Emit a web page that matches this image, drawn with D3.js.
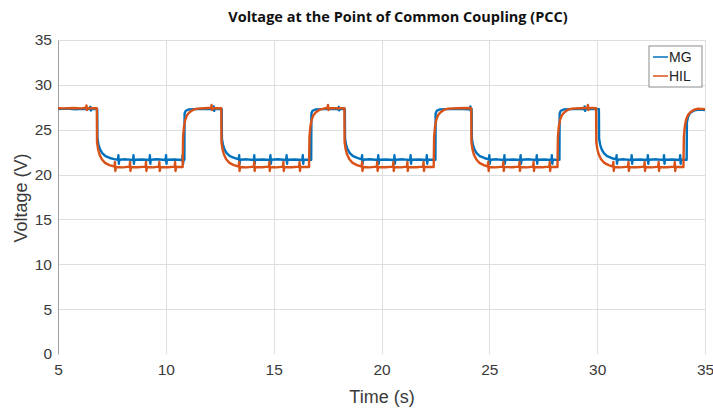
<!DOCTYPE html>
<html>
<head>
<meta charset="utf-8">
<script src="https://cdn.jsdelivr.net/npm/d3@7"></script>
<style>
  html, body { margin: 0; padding: 0; background: #fff; }
  svg { display: block; }
</style>
</head>
<body>
<svg id="chart" width="713" height="409"></svg>
<script>
// Axis ticks
const xTicks = [5, 10, 15, 20, 25, 30, 35];
const yTicks = [0, 5, 10, 15, 20, 25, 30, 35];

// Series labels
const seriesNames = ["MG", "HIL"];

// Measured PCC voltage, microgrid [time s, voltage V]
const mgPoints = [
  [5.00,27.30],[5.40,27.35],[5.80,27.28],[6.20,27.32],[6.45,27.30],[6.50,27.55],[6.53,27.15],[6.56,27.30],[6.82,27.30],
  [6.83,24.00],[6.88,23.30],[6.95,22.80],[7.05,22.40],[7.20,22.05],[7.40,21.85],[7.60,21.72],[7.78,21.65],
  [7.80,22.15],[7.82,21.20],[7.84,21.65],[8.15,21.70],[8.48,21.62],[8.50,22.15],[8.52,21.20],[8.54,21.65],[8.90,21.68],[9.24,21.62],[9.26,22.15],[9.28,21.20],[9.30,21.65],[9.60,21.70],[9.99,21.62],[10.01,22.15],[10.03,21.20],[10.05,21.65],[10.40,21.68],[10.76,21.62],[10.78,22.15],[10.80,21.20],[10.82,21.65],[10.86,21.65],
  [10.87,26.80],[10.92,27.10],[11.05,27.25],[11.40,27.30],[11.80,27.32],[12.20,27.28],[12.22,27.60],[12.24,27.10],[12.26,27.30],[12.59,27.30],
  [12.60,24.00],[12.65,23.30],[12.72,22.80],[12.82,22.40],[12.97,22.05],[13.17,21.85],[13.38,21.70],
  [13.40,22.15],[13.42,21.20],[13.44,21.65],[13.75,21.70],[14.08,21.62],[14.10,22.15],[14.12,21.20],[14.14,21.65],[14.50,21.68],[14.83,21.62],[14.85,22.15],[14.87,21.20],[14.89,21.65],[15.20,21.70],[15.58,21.62],[15.60,22.15],[15.62,21.20],[15.64,21.65],[16.00,21.68],[16.33,21.62],[16.35,22.15],[16.37,21.20],[16.39,21.65],[16.74,21.65],
  [16.75,26.80],[16.80,27.10],[16.93,27.25],[17.30,27.30],[17.70,27.32],[18.00,27.28],[18.02,27.55],[18.04,27.15],[18.06,27.30],[18.30,27.30],
  [18.31,24.00],[18.36,23.30],[18.43,22.80],[18.53,22.40],[18.68,22.05],[18.88,21.85],[19.08,21.70],
  [19.10,22.15],[19.12,21.20],[19.14,21.65],[19.45,21.70],[19.83,21.62],[19.85,22.15],[19.87,21.20],[19.89,21.65],[20.20,21.68],[20.58,21.62],[20.60,22.15],[20.62,21.20],[20.64,21.65],[21.00,21.70],[21.33,21.62],[21.35,22.15],[21.37,21.20],[21.39,21.65],[21.75,21.68],[22.08,21.62],[22.10,22.15],[22.12,21.20],[22.14,21.65],[22.50,21.65],
  [22.51,26.80],[22.56,27.10],[22.69,27.25],[23.00,27.30],[23.50,27.32],[24.00,27.28],[24.10,27.30],[24.12,27.60],[24.14,27.10],[24.18,27.30],
  [24.19,24.00],[24.24,23.30],[24.31,22.80],[24.41,22.40],[24.56,22.05],[24.76,21.85],[24.98,21.70],
  [25.00,22.15],[25.02,21.20],[25.04,21.65],[25.35,21.70],[25.68,21.62],[25.70,22.15],[25.72,21.20],[25.74,21.65],[26.10,21.68],[26.43,21.62],[26.45,22.15],[26.47,21.20],[26.49,21.65],[26.85,21.70],[27.18,21.62],[27.20,22.15],[27.22,21.20],[27.24,21.65],[27.55,21.68],[27.88,21.62],[27.90,22.15],[27.92,21.20],[27.94,21.65],[28.25,21.65],
  [28.26,26.80],[28.31,27.10],[28.44,27.25],[28.80,27.30],[29.20,27.32],[29.40,27.28],[29.42,27.60],[29.44,27.10],[29.46,27.30],[30.08,27.30],
  [30.09,24.00],[30.14,23.30],[30.21,22.80],[30.31,22.40],[30.46,22.05],[30.66,21.85],[30.88,21.70],
  [30.90,22.15],[30.92,21.20],[30.94,21.65],[31.25,21.70],[31.58,21.62],[31.60,22.15],[31.62,21.20],[31.64,21.65],[32.00,21.68],[32.33,21.62],[32.35,22.15],[32.37,21.20],[32.39,21.65],[32.75,21.70],[33.08,21.62],[33.10,22.15],[33.12,21.20],[33.14,21.65],[33.50,21.68],[33.83,21.62],[33.85,22.15],[33.87,21.20],[33.89,21.65],[34.15,21.65],
  [34.16,25.80],[34.22,26.50],[34.32,26.90],[34.50,27.15],[34.75,27.25],[35.00,27.20]
];

// Hardware-in-the-loop PCC voltage [time s, voltage V]
const hilPoints = [
  [5.00,27.40],[5.30,27.38],[5.70,27.42],[6.10,27.38],[6.30,27.45],[6.32,27.70],[6.34,27.20],[6.36,27.40],[6.80,27.40],
  [6.81,23.60],[6.86,22.80],[6.93,22.20],[7.03,21.70],[7.18,21.30],[7.38,21.05],[7.62,20.90],
  [7.64,21.40],[7.66,20.40],[7.68,20.85],[8.00,20.80],[8.32,20.88],[8.34,21.40],[8.36,20.40],[8.38,20.85],[8.70,20.82],[9.06,20.88],[9.08,21.40],[9.10,20.40],[9.12,20.85],[9.40,20.80],[9.68,20.88],[9.70,21.40],[9.72,20.40],[9.74,20.85],[10.10,20.82],[10.41,20.88],[10.43,21.40],[10.45,20.40],[10.47,20.85],[10.78,20.85],
  [10.80,24.20],[10.84,25.30],[10.90,26.10],[10.98,26.60],[11.10,26.95],[11.25,27.20],[11.45,27.35],[11.80,27.40],[12.10,27.45],[12.12,27.75],[12.14,27.20],[12.16,27.40],[12.57,27.40],
  [12.58,23.60],[12.63,22.80],[12.70,22.20],[12.80,21.70],[12.95,21.30],[13.15,21.05],[13.38,20.90],
  [13.40,21.40],[13.42,20.40],[13.44,20.85],[13.75,20.80],[14.08,20.88],[14.10,21.40],[14.12,20.40],[14.14,20.85],[14.45,20.82],[14.78,20.88],[14.80,21.40],[14.82,20.40],[14.84,20.85],[15.15,20.80],[15.43,20.88],[15.45,21.40],[15.47,20.40],[15.49,20.85],[15.85,20.82],[16.18,20.88],[16.20,21.40],[16.22,20.40],[16.24,20.85],[16.64,20.85],
  [16.66,24.20],[16.70,25.30],[16.76,26.10],[16.84,26.60],[16.96,26.95],[17.11,27.20],[17.31,27.35],[17.50,27.45],[17.52,27.75],[17.54,27.20],[17.56,27.40],[18.28,27.40],
  [18.29,23.60],[18.34,22.80],[18.41,22.20],[18.51,21.70],[18.66,21.30],[18.86,21.05],[19.08,20.90],
  [19.10,21.40],[19.12,20.40],[19.14,20.85],[19.45,20.80],[19.78,20.88],[19.80,21.40],[19.82,20.40],[19.84,20.85],[20.20,20.82],[20.53,20.88],[20.55,21.40],[20.57,20.40],[20.59,20.85],[20.90,20.80],[21.18,20.88],[21.20,21.40],[21.22,20.40],[21.24,20.85],[21.60,20.82],[21.93,20.88],[21.95,21.40],[21.97,20.40],[21.99,20.85],[22.42,20.85],
  [22.44,24.20],[22.48,25.30],[22.54,26.10],[22.62,26.60],[22.74,26.95],[22.89,27.20],[23.09,27.35],[23.50,27.40],[23.90,27.42],[24.16,27.40],
  [24.17,23.60],[24.22,22.80],[24.29,22.20],[24.39,21.70],[24.54,21.30],[24.74,21.05],[24.93,20.90],
  [24.95,21.40],[24.97,20.40],[24.99,20.85],[25.30,20.80],[25.63,20.88],[25.65,21.40],[25.67,20.40],[25.69,20.85],[26.05,20.82],[26.38,20.88],[26.40,21.40],[26.42,20.40],[26.44,20.85],[26.75,20.80],[27.03,20.88],[27.05,21.40],[27.07,20.40],[27.09,20.85],[27.45,20.82],[27.78,20.88],[27.80,21.40],[27.82,20.40],[27.84,20.85],[28.16,20.85],
  [28.18,24.20],[28.22,25.30],[28.28,26.10],[28.36,26.60],[28.48,26.95],[28.63,27.20],[28.83,27.35],[29.20,27.40],[29.55,27.45],[29.57,27.75],[29.59,27.20],[29.61,27.45],[29.95,27.40],
  [29.96,23.60],[30.01,22.80],[30.08,22.20],[30.18,21.70],[30.33,21.30],[30.53,21.05],[30.73,20.90],
  [30.75,21.40],[30.77,20.40],[30.79,20.85],[31.10,20.80],[31.43,20.88],[31.45,21.40],[31.47,20.40],[31.49,20.85],[31.85,20.82],[32.18,20.88],[32.20,21.40],[32.22,20.40],[32.24,20.85],[32.55,20.80],[32.83,20.88],[32.85,21.40],[32.87,20.40],[32.89,20.85],[33.25,20.82],[33.58,20.88],[33.60,21.40],[33.62,20.40],[33.64,20.85],[34.00,20.85],
  [34.02,24.20],[34.06,25.30],[34.12,26.10],[34.20,26.60],[34.32,26.95],[34.47,27.20],[34.67,27.35],[35.00,27.30]
];

const colors = { MG: "#0072BD", HIL: "#D95319" };

const svg = d3.select("#chart");
const plotLeft = 58, plotRight = 705, plotTop = 40, plotBottom = 354;

const x = d3.scaleLinear().domain([5, 35]).range([plotLeft, plotRight]);
const y = d3.scaleLinear().domain([0, 35]).range([plotBottom, plotTop]);

// Grid
const grid = svg.append("g").attr("stroke", "#dedede").attr("stroke-width", 1);
grid.selectAll("line.v").data(xTicks.slice(1)).join("line")
  .attr("class", "v")
  .attr("x1", d => Math.round(x(d)) + 0.5).attr("x2", d => Math.round(x(d)) + 0.5)
  .attr("y1", plotTop).attr("y2", plotBottom);
grid.selectAll("line.h").data(yTicks.slice(1)).join("line")
  .attr("class", "h")
  .attr("y1", d => Math.round(y(d)) + 0.5).attr("y2", d => Math.round(y(d)) + 0.5)
  .attr("x1", plotLeft).attr("x2", plotRight);

// Axes
const xAxis = d3.axisBottom(x).tickValues(xTicks).tickSize(0).tickPadding(10);
const yAxis = d3.axisLeft(y).tickValues(yTicks).tickSize(0).tickPadding(6);

const gx = svg.append("g").attr("transform", `translate(0,${plotBottom})`).call(xAxis);
gx.select(".domain").remove();
const gy = svg.append("g").attr("transform", `translate(${plotLeft},0)`).call(yAxis);
gy.select(".domain").attr("stroke", "#a0a0a0");
svg.selectAll(".tick text")
  .attr("font-family", "'Liberation Sans', Arial, sans-serif")
  .attr("font-size", 15.5)
  .attr("fill", "#3a3a3a");

// Series
const line = d3.line().x(d => x(d[0])).y(d => y(d[1]));
svg.append("path").datum(mgPoints)
  .attr("fill", "none").attr("stroke", colors.MG).attr("stroke-width", 2.4)
  .attr("stroke-linejoin", "round").attr("d", line);
svg.append("path").datum(hilPoints)
  .attr("fill", "none").attr("stroke", colors.HIL).attr("stroke-width", 2.4)
  .attr("stroke-linejoin", "round").attr("d", line);

// Title and axis labels
svg.append("text").attr("x", 398).attr("y", 22).attr("text-anchor", "middle")
  .attr("font-family", "'Open Sans', sans-serif").attr("font-weight", 700)
  .attr("font-size", 14.5).attr("fill", "#111")
  .text("Voltage at the Point of Common Coupling (PCC)");
svg.append("text").attr("x", 382).attr("y", 403).attr("text-anchor", "middle")
  .attr("font-family", "'Liberation Sans', Arial, sans-serif").attr("font-size", 18)
  .attr("fill", "#3a3a3a").text("Time (s)");
svg.append("text").attr("transform", "translate(27,198) rotate(-90)")
  .attr("text-anchor", "middle")
  .attr("font-family", "'Liberation Sans', Arial, sans-serif").attr("font-size", 18)
  .attr("fill", "#3a3a3a").text("Voltage (V)");

// Legend
const lg = svg.append("g").attr("transform", "translate(649,46)");
lg.append("rect").attr("width", 53).attr("height", 41)
  .attr("fill", "#fff").attr("stroke", "#8c8c8c").attr("stroke-width", 1);
seriesNames.forEach((name, i) => {
  const yy = 11 + i * 19;
  lg.append("line").attr("x1", 4).attr("x2", 19).attr("y1", yy).attr("y2", yy)
    .attr("stroke", colors[name]).attr("stroke-width", 1.5);
  lg.append("text").attr("x", 20).attr("y", yy + 5)
    .attr("font-family", "'Liberation Sans', Arial, sans-serif").attr("font-size", 14)
    .attr("fill", "#222").text(name);
});
</script>
</body>
</html>
